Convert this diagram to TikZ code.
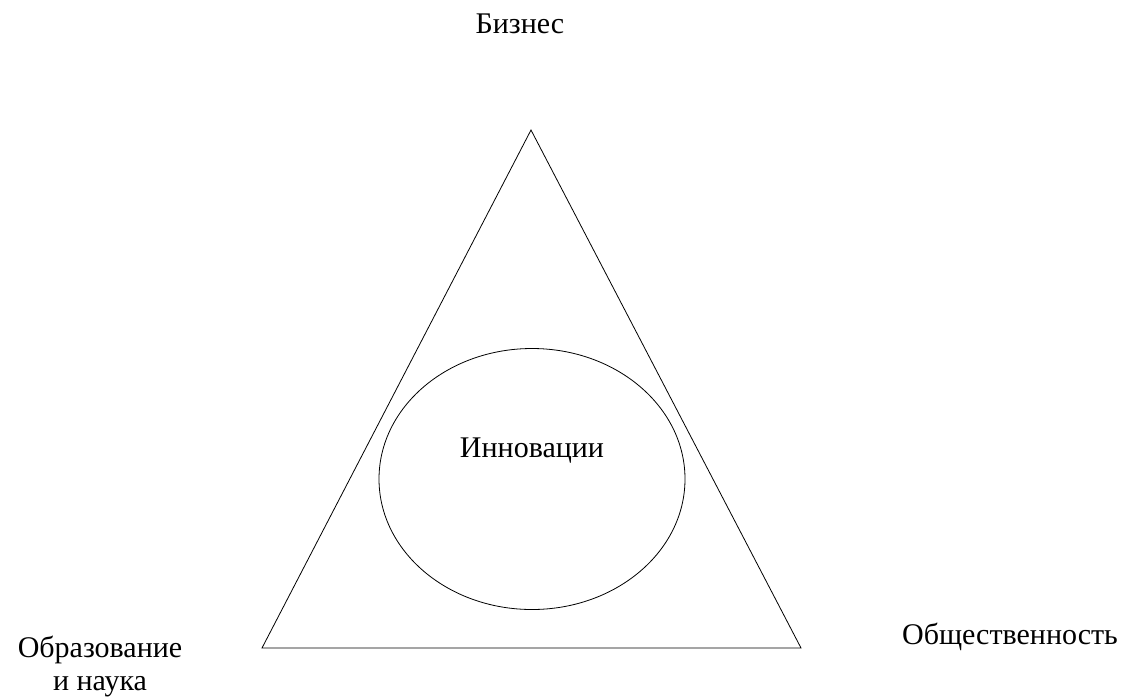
\documentclass[tikz,border=0pt]{standalone}
\usepackage{fontspec}
\setmainfont{Liberation Serif}
\usepackage{tikz}
\usetikzlibrary{shapes.geometric}

\begin{document}
\begin{tikzpicture}[x=1pt,y=-1pt,line width=0.8pt,font=\fontsize{30}{33}\selectfont]
				\useasboundingbox (0,0) rectangle (1126,697);
				\coordinate (top) at (531,130);
				\coordinate (bl) at (262,648);
				\coordinate (br) at (801,648);
				\draw (top) -- (bl) -- (br) -- cycle;
				\node[shape=ellipse, draw=black, minimum width=306, minimum height=261, inner sep=0pt] (e) at (532,479) {};
				\node[align=center] (inn) at (532,451) {Инновации};
				\node[align=center] (biz) at (520,24) {Бизнес};
				\node[align=center] (obr) at (100,666) {Образование\\и наука};
				\node[align=center] (obs) at (1010,637) {Общественность};
			\end{tikzpicture}
\end{document}
